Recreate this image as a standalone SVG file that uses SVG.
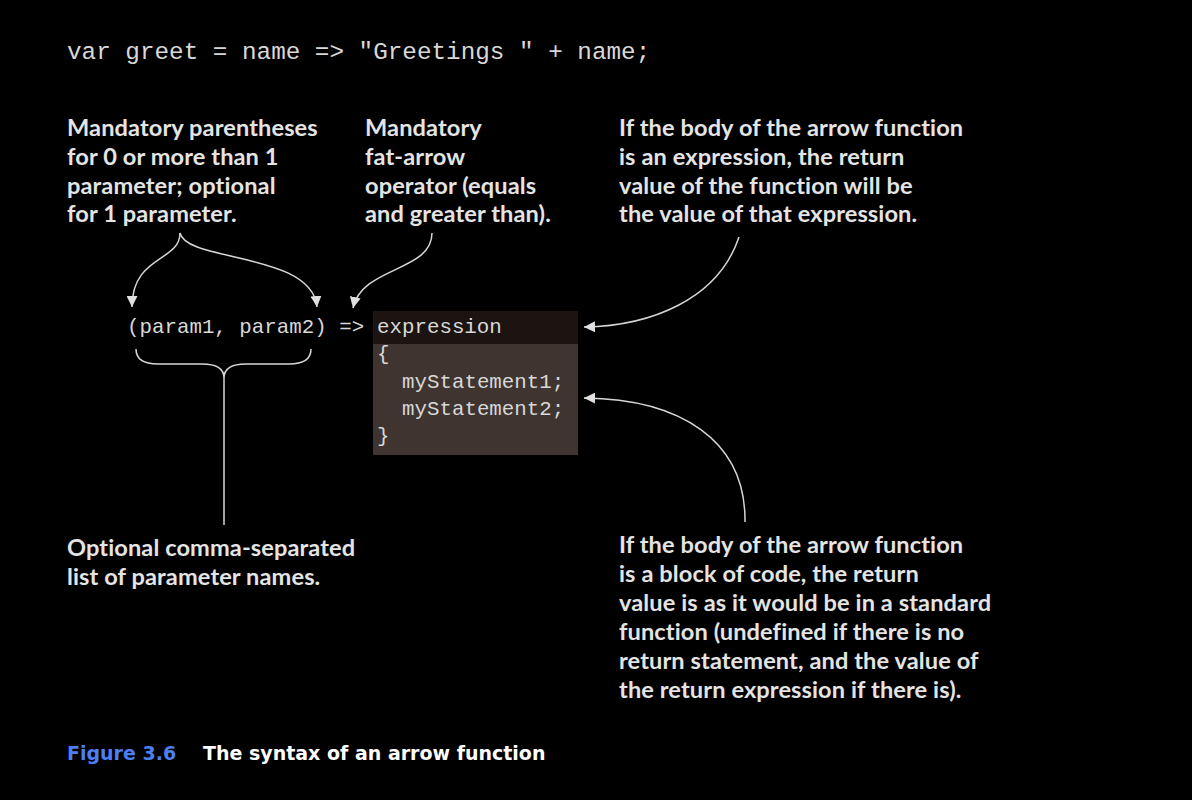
<svg xmlns="http://www.w3.org/2000/svg" width="1192" height="800" viewBox="0 0 1192 800">
<defs>
<style>
.code{font-family:"Liberation Mono","Courier New",monospace;fill:#d8d8d8;}
.lbl{font-family:Lato,"Open Sans",sans-serif;font-weight:bold;font-size:23.6px;letter-spacing:0.1px;fill:#e4e4e4;}
.cap{font-family:"DejaVu Sans",sans-serif;font-weight:bold;font-size:19px;}
.con{fill:none;stroke:#d6d6d6;stroke-width:1.5;}
</style>
<marker id="ah" viewBox="0 0 10 10" refX="10" refY="5" markerWidth="11" markerHeight="11" markerUnits="userSpaceOnUse" orient="auto">
<path d="M0,0 L10,5 L0,10 z" fill="#e0e0e0"/>
</marker>
</defs>
<rect width="1192" height="800" fill="#000"/>

<g id="top-code">
<text class="code" x="67" y="59" font-size="24.3">var greet = name =&gt; "Greetings " + name;</text>
</g>

<g id="label-parens">
<text class="lbl" x="67" y="136">Mandatory parentheses</text>
<text class="lbl" x="67" y="165">for 0 or more than 1</text>
<text class="lbl" x="67" y="194">parameter; optional</text>
<text class="lbl" x="67" y="222">for 1 parameter.</text>
</g>

<g id="label-fatarrow">
<text class="lbl" x="365" y="136">Mandatory</text>
<text class="lbl" x="365" y="165">fat-arrow</text>
<text class="lbl" x="365" y="194">operator (equals</text>
<text class="lbl" x="365" y="222">and greater than).</text>
</g>

<g id="label-expression">
<text class="lbl" x="619" y="136">If the body of the arrow function</text>
<text class="lbl" x="619" y="165">is an expression, the return</text>
<text class="lbl" x="619" y="194">value of the function will be</text>
<text class="lbl" x="619" y="222">the value of that expression.</text>
</g>

<g id="params">
<text class="code" x="127" y="333" font-size="20.8">(param1, param2) =&gt;</text>
</g>

<g id="body-box">
<rect x="373" y="311" width="205" height="33" fill="#1c1411"/>
<rect x="373" y="344" width="205" height="111" fill="#3f3430"/>
<text class="code" x="377" y="333" font-size="20.8">expression</text>
<text class="code" x="377" y="360" font-size="20.8">{</text>
<text class="code" x="402" y="388" font-size="20.8">myStatement1;</text>
<text class="code" x="402" y="415" font-size="20.8">myStatement2;</text>
<text class="code" x="377" y="442" font-size="20.8">}</text>
</g>

<g id="label-paramlist">
<text class="lbl" x="67" y="556">Optional comma-separated</text>
<text class="lbl" x="67" y="585">list of parameter names.</text>
</g>

<g id="label-block">
<text class="lbl" x="619" y="553">If the body of the arrow function</text>
<text class="lbl" x="619" y="582">is a block of code, the return</text>
<text class="lbl" x="619" y="611">value is as it would be in a standard</text>
<text class="lbl" x="619" y="640">function (undefined if there is no</text>
<text class="lbl" x="619" y="669">return statement, and the value of</text>
<text class="lbl" x="619" y="698">the return expression if there is).</text>
</g>

<g id="caption">
<text class="cap" x="67" y="760" fill="#4d7ef2">Figure 3.6</text>
<text class="cap" x="203" y="760" fill="#ffffff">The syntax of an arrow function</text>
</g>

<g id="connectors">
<path class="con" d="M180,233 C180,262 132,255 132,307" marker-end="url(#ah)"/>
<path class="con" d="M180,233 C186,262 312,252 317,307" marker-end="url(#ah)"/>
<path class="con" d="M432,233 C432,272 362,266 353,308" marker-end="url(#ah)"/>
<path class="con" d="M136,349 Q136,364 158,364 L202,364 Q224,364 224,378 Q224,364 246,364 L289,364 Q311,364 311,349"/>
<path class="con" d="M224,378 L224,525"/>
<path class="con" d="M739,237 C718,300 650,326 584,327" marker-end="url(#ah)"/>
<path class="con" d="M745,522 C746,440 680,399 584,398" marker-end="url(#ah)"/>
</g>
</svg>
